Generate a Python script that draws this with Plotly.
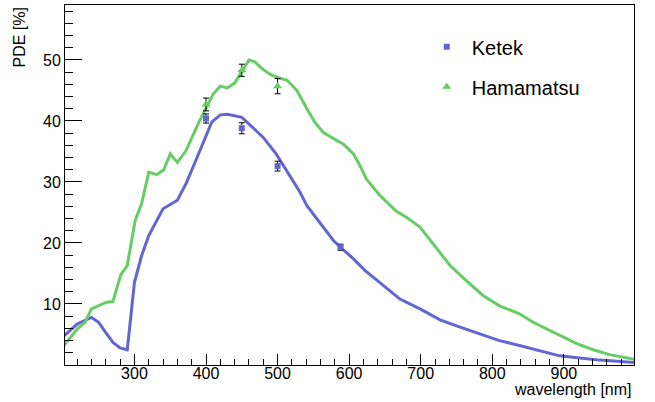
import plotly.graph_objects as go

# Curves (wavelength nm, PDE %)
ketek_wl = [200, 220, 240, 250, 260, 270, 280, 290, 300, 310, 320, 330, 340, 360, 372, 390, 408, 420, 430, 450,
            464, 480, 498, 517, 531, 541, 555, 568, 578, 588, 606, 622, 648, 671, 699, 727, 755, 783, 810, 838,
            866, 894, 922, 950, 1000]
ketek_pde = [4.6, 6.7, 7.8, 7.0, 5.3, 3.7, 2.8, 2.5, 13.5, 17.9, 21.2, 23.4, 25.6, 27.0, 29.7, 34.7, 39.8, 41.0, 41.1, 40.6,
             39.1, 37.3, 34.6, 31.0, 28.4, 26.1, 23.9, 22.0, 20.4, 19.3, 17.4, 15.5, 13.0, 10.8, 9.2, 7.4, 6.2, 5.1, 4.0, 3.2,
             2.3, 1.5, 1.15, 0.8, 0.4]

hama_wl = [200, 220, 231, 240, 261, 270, 281, 290, 301, 310, 320, 331, 341, 350, 360, 372, 391, 410, 420, 430,
           440, 452, 460, 468, 480, 492, 503, 513, 527, 541, 552, 564, 578, 592, 606, 615, 624, 643, 666, 680,
           699, 718, 741, 764, 787, 810, 838, 857, 876, 894, 918, 941, 964, 1000]
hama_pde = [3.0, 5.9, 7.0, 9.2, 10.3, 10.4, 14.8, 16.3, 23.7, 26.4, 31.6, 31.2, 32.0, 34.6, 33.2, 35.1, 40.0, 44.4, 45.7, 45.4,
            46.2, 48.4, 50.0, 49.7, 48.4, 47.5, 47.0, 46.7, 45.0, 42.0, 39.8, 38.1, 37.2, 36.2, 34.6, 32.7, 30.5, 27.8, 25.2, 24.2,
            22.6, 19.8, 16.3, 13.8, 11.4, 9.7, 8.4, 7.0, 5.9, 4.8, 3.5, 2.5, 1.7, 0.9]

# Measured points
ketek_pt_wl = [400, 450, 500, 588]
ketek_pt_pde = [40.4, 38.8, 32.6, 19.3]
ketek_pt_err = [0.75, 0.9, 0.8, 0.5]

hama_pt_wl = [400, 450, 500]
hama_pt_pde = [42.7, 48.3, 45.7]
hama_pt_err = [1.05, 1.0, 1.25]

x_ticks = [300, 400, 500, 600, 700, 800, 900]
y_ticks = [10, 20, 30, 40, 50]

BLUE = "rgb(100,100,210)"
GREEN = "rgb(100,205,100)"
FONT = "Liberation Sans, Arial, sans-serif"

fig = go.Figure()
fig.add_trace(go.Scatter(x=ketek_wl, y=ketek_pde, mode="lines", line=dict(color=BLUE, width=3), showlegend=False))
fig.add_trace(go.Scatter(x=hama_wl, y=hama_pde, mode="lines", line=dict(color=GREEN, width=3), showlegend=False))
fig.add_trace(go.Scatter(x=ketek_pt_wl, y=ketek_pt_pde, mode="markers", name="Ketek", legendgroup="a",
                         marker=dict(symbol="square", size=6, color=BLUE),
                         error_y=dict(type="data", array=ketek_pt_err, color="black", thickness=1, width=3)))
fig.add_trace(go.Scatter(x=hama_pt_wl, y=hama_pt_pde, mode="markers", name="Hamamatsu", legendgroup="b",
                         marker=dict(symbol="triangle-up", size=8, color=GREEN),
                         error_y=dict(type="data", array=hama_pt_err, color="black", thickness=1, width=3)))

fig.update_layout(
    width=655, height=402,
    margin=dict(l=65, r=21, t=5, b=37),
    paper_bgcolor="white", plot_bgcolor="white",
    font=dict(family=FONT, color="black", size=16),
    legend=dict(x=0.627, y=0.938, xanchor="left", yanchor="top", font=dict(size=20), itemwidth=40,
                bgcolor="rgba(0,0,0,0)", tracegroupgap=11, traceorder="grouped"),
    xaxis=dict(range=[203, 998], tickvals=x_ticks, ticks="inside", ticklen=11, tickwidth=1, tickcolor="black",
               showline=True, linecolor="black", linewidth=1, mirror=True, showgrid=False, zeroline=False,
               tickfont=dict(size=16), ticklabelstandoff=-6,
               minor=dict(dtick=20, tick0=0, ticks="inside", ticklen=6, tickcolor="black", showgrid=False)),
    yaxis=dict(range=[0, 59], tickvals=y_ticks, ticks="inside", ticklen=17, tickwidth=1, tickcolor="black",
               showline=True, linecolor="black", linewidth=1, mirror=True, showgrid=False, zeroline=False,
               tickfont=dict(size=16),
               minor=dict(dtick=2, tick0=0, ticks="inside", ticklen=8, tickcolor="black", showgrid=False)),
    annotations=[
        dict(text="PDE [%]", xref="paper", yref="paper", x=-0.08, y=1.0, xanchor="center", yanchor="top",
             textangle=-90, showarrow=False, font=dict(size=16)),
        dict(text="wavelength [nm]", xref="paper", yref="paper", x=1.0, y=-0.069, xanchor="right", yanchor="middle",
             showarrow=False, font=dict(size=16)),
    ],
)

fig.write_html("out.html")
